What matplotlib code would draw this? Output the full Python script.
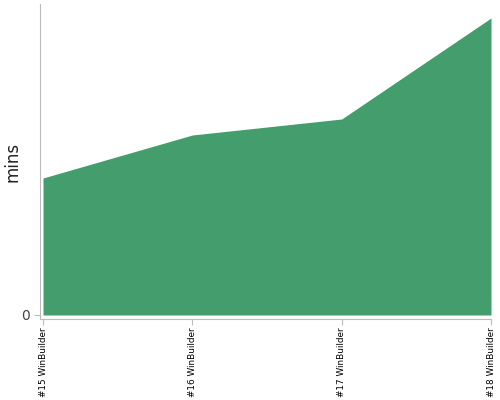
import matplotlib
matplotlib.use('Agg')
import matplotlib.pyplot as plt

# build durations per WinBuilder run
builds = ['#15 WinBuilder', '#16 WinBuilder', '#17 WinBuilder', '#18 WinBuilder']
mins = [13.7, 18.0, 19.6, 29.7]

fig = plt.figure(figsize=(5, 4), dpi=100)
ax = fig.add_axes([40/500, 81/400, 451/500, 315/400])

x = list(range(len(builds)))
ax.fill_between(x, mins, 0, color='#449d6d', linewidth=0)

ax.set_xlim(-3 / 149.3, 3)
ax.set_ylim(-0.4, 31.1)

ax.set_xticks(x)
ax.set_xticklabels(builds, rotation=90, fontsize=6.4)
ax.set_yticks([0])
ax.set_yticklabels(['0'], fontsize=10, color='#444444')
ax.set_ylabel('mins', fontsize=12, color='#222222', va='center', ha='center')
ax.yaxis.set_label_coords(-0.062, 0.5)

for s in ['top', 'right']:
    ax.spines[s].set_visible(False)
for s in ['left', 'bottom']:
    ax.spines[s].set_color('#bbbbbb')
ax.tick_params(axis='both', colors='#bbbbbb', length=4, width=0.8)
ax.tick_params(axis='x', labelcolor='black', pad=2)
ax.tick_params(axis='y', labelcolor='#444444')

fig.savefig('out.png', dpi=100)
